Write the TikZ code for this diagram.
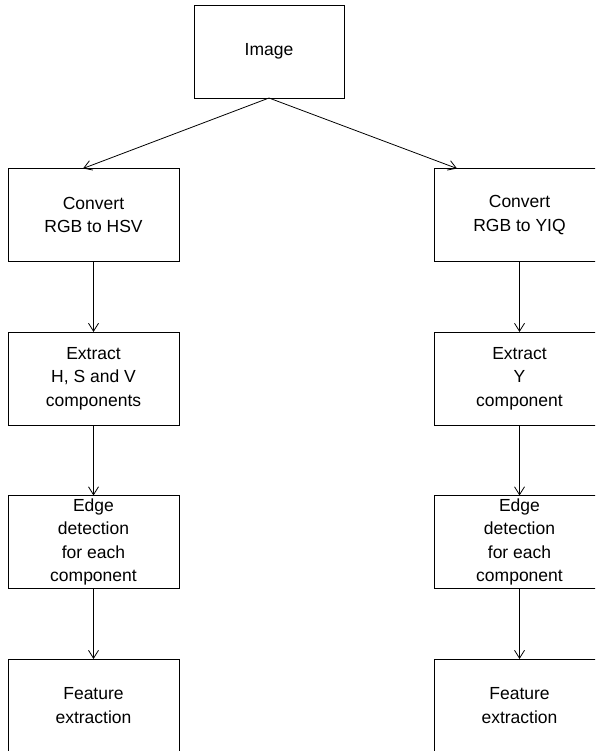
\documentclass[tikz,border=0pt]{standalone}
\usepackage{fontspec}
\setmainfont{Liberation Sans}
\usetikzlibrary{arrows.meta}
\begin{document}
\begin{tikzpicture}[x=1pt, y=-1pt,
  stepbox/.style={draw, line width=0.8pt, minimum width=171pt, minimum height=93pt,
    inner sep=0pt, outer sep=0pt, align=center,
    font=\fontsize{17.5}{23.3}\selectfont},
  flow/.style={line width=0.8pt, -{Straight Barb[length=8pt, width=10pt]}}]
  \useasboundingbox (0,0) rectangle (595,751);
  \clip (0,0) rectangle (595,751);

  % source
  \node[stepbox, minimum width=150pt] (img) at (269,51.5) {Image};

  % HSV branch
  \node[stepbox] (hsv)  at (93.5,215)   {Convert\\RGB to HSV};
  \node[stepbox] (hsvx) at (93.5,378.5) {Extract\\H, S and V\\components};
  \node[stepbox] (hsve) at (93.5,542)   {Edge\\detection\\for each\\component};
  \node[stepbox] (hsvf) at (93.5,705.5) {Feature\\extraction};

  % YIQ branch
  \node[stepbox] (yiq)  at (519.5,215)   {Convert\\RGB to YIQ};
  \node[stepbox] (yiqx) at (519.5,378.5) {Extract\\Y\\component};
  \node[stepbox] (yiqe) at (519.5,542)   {Edge\\detection\\for each\\component};
  \node[stepbox] (yiqf) at (519.5,705.5) {Feature\\extraction};

  % split from the source
  \coordinate (hsvin) at (83,168.5);
  \coordinate (yiqin) at (457,168.5);
  \draw[flow] (img.south) -- (hsvin);
  \draw[flow] (img.south) -- (yiqin);

  % chains
  \draw[flow] (hsv.south)  -- (hsvx.north);
  \draw[flow] (hsvx.south) -- (hsve.north);
  \draw[flow] (hsve.south) -- (hsvf.north);
  \draw[flow] (yiq.south)  -- (yiqx.north);
  \draw[flow] (yiqx.south) -- (yiqe.north);
  \draw[flow] (yiqe.south) -- (yiqf.north);
\end{tikzpicture}
\end{document}
